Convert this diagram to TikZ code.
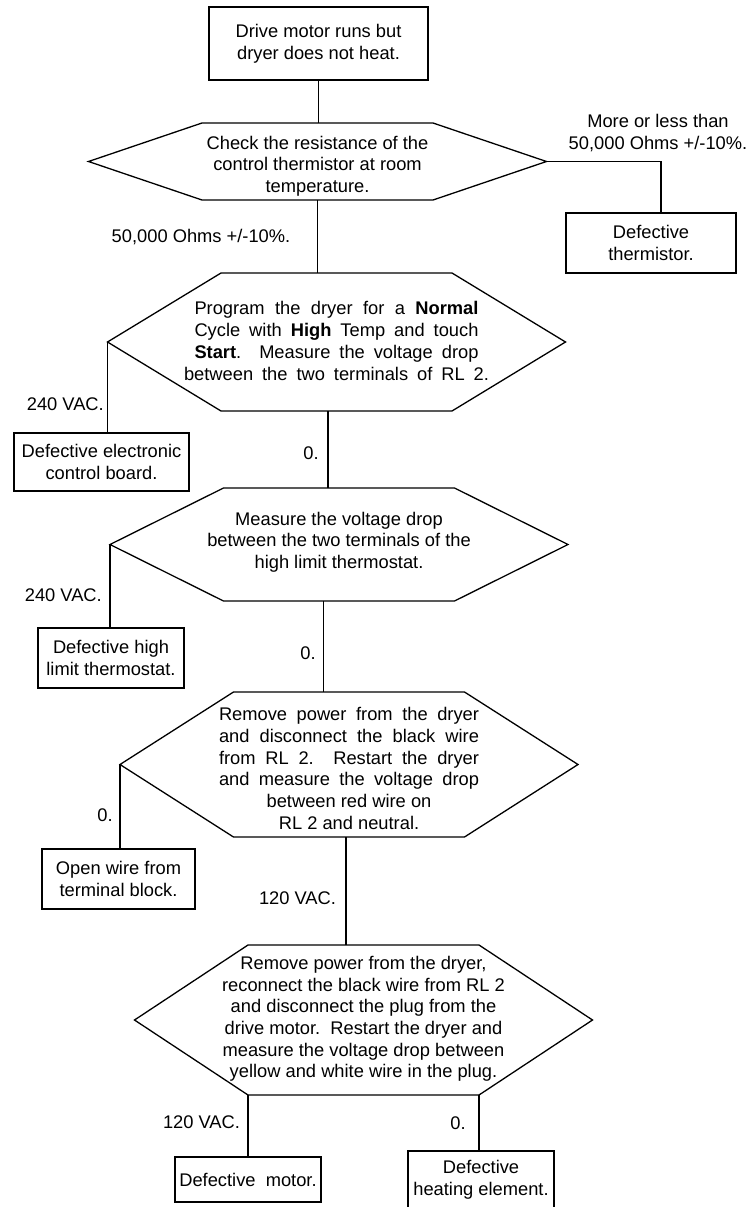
\documentclass[tikz,border=0pt]{standalone}
\usepackage{fontspec}
\setmainfont{Liberation Sans}

% outline of a test step: node, centre shift, half height
\newcommand{\hexframe}[3]{%
  \draw[conn] ([shift={(-115.5,#2-#3)}]#1.center) coordinate (#1-nw)
    -- ([shift={(115.5,#2-#3)}]#1.center) coordinate (#1-ne)
    -- ([shift={(229,#2)}]#1.center) coordinate (#1-e)
    -- ([shift={(115.5,#2+#3)}]#1.center) coordinate (#1-se)
    -- ([shift={(-115.5,#2+#3)}]#1.center) coordinate (#1-sw)
    -- ([shift={(-229,#2)}]#1.center) coordinate (#1-w) -- cycle;}

\begin{document}
\begin{tikzpicture}[x=1pt, y=-1pt, font=\fontsize{18.3}{21.7}\selectfont,
    conn/.style={line width=1.3pt},
    endbox/.style={draw, line width=1.3pt, align=center, inner sep=0pt},
    qtext/.style={align=center, inner sep=0pt},
    lbl/.style={align=center, inner sep=0pt}]
    \useasboundingbox (0,0) rectangle (753,1207);

    % Start
    \node[endbox, minimum width=219pt, minimum height=73pt] (start) at (318.5,43.5)
        {Drive motor runs but\\dryer does not heat.};

    % Step 1: thermistor
    \node[qtext] (q1) at (317.5,166)
        {Check the resistance of the\\control thermistor at room\\temperature.};
    \hexframe{q1}{-4.5}{38.5}
    \node[endbox, minimum width=170pt, minimum height=60pt] (bad1) at (651,243)
        {Defective\\thermistor.};
    \node[lbl] (l1) at (658,133) {More or less than\\50,000 Ohms +/-10\%.};
    \node[lbl] (l2) at (201,237) {50,000 Ohms +/-10\%.};

    % Step 2: RL 2
    \node[qtext] (q2) at (336.5,341)
        {\makebox[284pt][s]{Program the dryer for a \textbf{Normal}}\\
         \makebox[284pt][s]{Cycle with \textbf{High} Temp and touch}\\
         \makebox[284pt][s]{\textbf{Start}.\ \ Measure the voltage drop}\\
         \makebox[305pt][s]{between the two terminals of RL 2.}};
    \hexframe{q2}{1}{69}
    \node[endbox, minimum width=175pt, minimum height=58pt] (bad2) at (101.5,462)
        {Defective electronic\\control board.};
    \node[lbl, anchor=east] (l3) at (104,404) {240 VAC.};
    \node[lbl] (l4) at (311,453) {0.};

    % Step 3: high limit thermostat
    \node[qtext] (q3) at (339,542)
        {Measure the voltage drop\\between the two terminals of the\\high limit thermostat.};
    \hexframe{q3}{2.5}{56.5}
    \node[endbox, minimum width=146pt, minimum height=60pt] (bad3) at (111,658)
        {Defective high\\limit thermostat.};
    \node[lbl, anchor=east] (l5) at (102,595) {240 VAC.};
    \node[lbl] (l6) at (308,653) {0.};

    % Step 4: black wire off
    \node[qtext] (q4) at (349,768.5)
        {\makebox[260pt][s]{Remove power from the dryer}\\
         \makebox[260pt][s]{and disconnect the black wire}\\
         \makebox[260pt][s]{from RL 2.\ \ Restart the dryer}\\
         \makebox[260pt][s]{and measure the voltage drop}\\
         between red wire on\\RL 2 and neutral.};
    \hexframe{q4}{-4}{72.5}
    \node[endbox, minimum width=153pt, minimum height=60pt] (bad4) at (118.5,879)
        {Open wire from\\terminal block.};
    \node[lbl] (l7) at (105,815) {0.};
    \node[lbl] (l8) at (297.5,898) {120 VAC.};

    % Step 5: motor plug
    \node[qtext] (q5) at (363.5,1019)
        {Remove power from the dryer,\\reconnect the black wire from RL 2\\and disconnect the plug from the\\drive motor.\ \ Restart the dryer and\\measure the voltage drop between\\yellow and white wire in the plug.};
    \hexframe{q5}{1}{75}
    \node[endbox, minimum width=146pt, minimum height=45pt] (bad5) at (248,1179.5)
        {Defective\ \ motor.};
    \node[endbox, minimum width=146pt, minimum height=58pt] (bad6) at (481,1180)
        {Defective\\heating element.};
    \node[lbl] (l9) at (201.5,1122) {120 VAC.};
    \node[lbl] (l10) at (458,1123) {0.};

    % Connectors
    \coordinate (j2) at ([xshift=107pt]q2-sw);
    \coordinate (j3) at ([xshift=100pt]q3-sw);
    \coordinate (j4) at ([xshift=112.5pt]q4-sw);
    \draw[conn] (start.south) -- (start.south |- q1-nw);
    \draw[conn] (q1-e) -| ([xshift=10pt]bad1.north);
    \draw[conn] (q1.center |- q1-sw) -- (q1.center |- q2-nw);
    \draw[conn] (q2-w) -- (q2-w |- bad2.north);
    \draw[conn] (j2) -- (j2 |- q3-nw);
    \draw[conn] (q3-w) -- (q3-w |- bad3.north);
    \draw[conn] (j3) -- (j3 |- q4-nw);
    \draw[conn] (q4-w) -- (q4-w |- bad4.north);
    \draw[conn] (j4) -- (j4 |- q5-nw);
    \draw[conn] (q5-sw) -- (q5-sw |- bad5.north);
    \draw[conn] (q5-se) -- (q5-se |- bad6.north);
\end{tikzpicture}
\end{document}
